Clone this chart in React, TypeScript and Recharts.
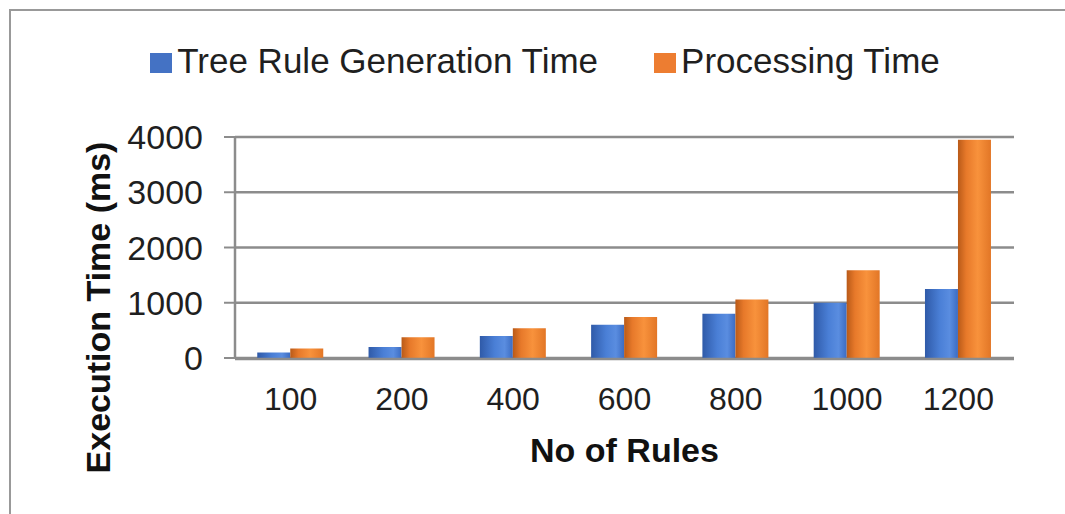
import { BarChart, Bar, XAxis, YAxis, CartesianGrid, Legend, Label } from "recharts"

const categories = ["100", "200", "400", "600", "800", "1000", "1200"]
const treeRuleTime = [100, 200, 400, 600, 800, 1000, 1250]
const processingTime = [170, 375, 540, 740, 1060, 1590, 3950]
const yTicks = [0, 1000, 2000, 3000, 4000]

const SERIES = [
  { key: "tree", name: "Tree Rule Generation Time", color: "#4472c4", grad: "gBlue" },
  { key: "proc", name: "Processing Time", color: "#ed7d31", grad: "gOrange" },
]

const data = categories.map((c, i) => ({
  rules: c,
  tree: treeRuleTime[i],
  proc: processingTime[i],
}))

// tick marks sit on the category boundaries, so a hidden numeric axis draws them
const edgeTicks = categories.map((_, i) => i).concat(categories.length)

const FONT = "'Liberation Sans', Arial, sans-serif"
const AXIS = "#8c8c8c"
const TEXT = "#1f1f1f"

const renderLegend = () => (
  <div
    style={{
      display: "flex",
      justifyContent: "center",
      alignItems: "center",
      gap: 56,
      paddingLeft: 25,
      fontFamily: FONT,
      fontSize: 35,
      lineHeight: "35px",
      color: TEXT,
    }}
  >
    {SERIES.map((s) => (
      <span key={s.key} style={{ display: "flex", alignItems: "center" }}>
        <span style={{ width: 22, height: 20, background: s.color, marginRight: 5, marginTop: 4 }} />
        {s.name}
      </span>
    ))}
  </div>
)

export default function App() {
  return (
    <div style={{ position: "absolute", left: 0, top: 0, width: 1065, height: 514, background: "#fff" }}>
      <div
        style={{
          position: "absolute",
          left: 9,
          top: 9,
          right: 0,
          bottom: 0,
          borderTop: "2px solid #999",
          borderLeft: "2px solid #999",
        }}
      />
      <BarChart
        width={1065}
        height={514}
        data={data}
        margin={{ top: 137, right: 51, bottom: 154, left: 0 }}
        barCategoryGap="20%"
        barGap={0}
      >
        <defs>
          <linearGradient id="gBlue" x1="0" y1="0" x2="1" y2="0">
            <stop offset="0%" stopColor="#2f5aa8" />
            <stop offset="45%" stopColor="#4a7fd6" />
            <stop offset="75%" stopColor="#5a8de0" />
            <stop offset="100%" stopColor="#3c6cc2" />
          </linearGradient>
          <linearGradient id="gOrange" x1="0" y1="0" x2="1" y2="0">
            <stop offset="0%" stopColor="#b95a18" />
            <stop offset="25%" stopColor="#e7792a" />
            <stop offset="60%" stopColor="#f8923c" />
            <stop offset="100%" stopColor="#e27626" />
          </linearGradient>
        </defs>
        <CartesianGrid vertical={false} stroke={AXIS} strokeWidth={2.5} />
        <XAxis
          xAxisId="edge"
          type="number"
          domain={[0, categories.length]}
          ticks={edgeTicks}
          tick={false}
          tickSize={9}
          tickLine={{ stroke: AXIS, strokeWidth: 2 }}
          axisLine={{ stroke: AXIS, strokeWidth: 2.5 }}
          height={1}
        />
        <XAxis
          dataKey="rules"
          height={1}
          axisLine={false}
          tickLine={false}
          tickSize={0}
          tickMargin={29}
          tick={{ fontSize: 32, fill: TEXT, fontFamily: FONT }}
          interval={0}
        >
          <Label
            value="No of Rules"
            position="bottom"
            offset={79}
            style={{ fontSize: 34, fontWeight: "bold", fill: "#111", fontFamily: FONT }}
          />
        </XAxis>
        <YAxis
          width={235}
          domain={[0, 4000]}
          ticks={yTicks}
          tickSize={11}
          tickMargin={21}
          tickLine={{ stroke: AXIS, strokeWidth: 2 }}
          axisLine={{ stroke: AXIS, strokeWidth: 2.5 }}
          tick={{ fontSize: 34, fill: TEXT, fontFamily: FONT }}
        >
          <Label
            value="Execution Time (ms)"
            position="center"
            angle={-90}
            dx={-20}
            dy={60}
            style={{ fontSize: 34, fontWeight: "bold", fill: "#111", fontFamily: FONT }}
          />
        </YAxis>
        <Legend
          layout="horizontal"
          verticalAlign="middle"
          align="center"
          content={renderLegend}
          wrapperStyle={{ top: 43, left: 0, width: 1065 }}
        />
        {SERIES.map((s) => (
          <Bar
            key={s.key}
            dataKey={s.key}
            name={s.name}
            fill={`url(#${s.grad})`}
            isAnimationActive={false}
          />
        ))}
      </BarChart>
    </div>
  )
}
